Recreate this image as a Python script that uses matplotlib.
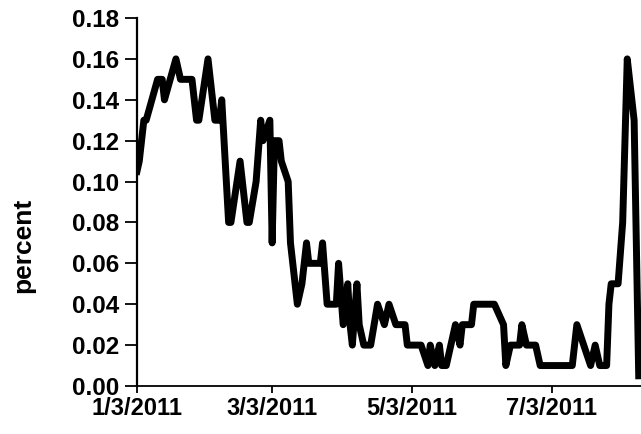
import pandas as pd
import matplotlib
matplotlib.use('Agg')
import matplotlib.pyplot as plt

# daily readings
dates = ['2011-01-03', '2011-01-04', '2011-01-06', '2011-01-07', '2011-01-12', '2011-01-14',
         '2011-01-15', '2011-01-20', '2011-01-22', '2011-01-27', '2011-01-29', '2011-01-30',
         '2011-02-03', '2011-02-06', '2011-02-08', '2011-02-09', '2011-02-12', '2011-02-13',
         '2011-02-17', '2011-02-20', '2011-02-21', '2011-02-24', '2011-02-26', '2011-02-27',
         '2011-03-02', '2011-03-03', '2011-03-04', '2011-03-06', '2011-03-07', '2011-03-10',
         '2011-03-11', '2011-03-14', '2011-03-16', '2011-03-18', '2011-03-19', '2011-03-24',
         '2011-03-25', '2011-03-27', '2011-03-31', '2011-04-01', '2011-04-03', '2011-04-05',
         '2011-04-06', '2011-04-07', '2011-04-09', '2011-04-10', '2011-04-12', '2011-04-15',
         '2011-04-18', '2011-04-21', '2011-04-23', '2011-04-26', '2011-04-30', '2011-05-01',
         '2011-05-07', '2011-05-10', '2011-05-11', '2011-05-13', '2011-05-15', '2011-05-16',
         '2011-05-18', '2011-05-22', '2011-05-24', '2011-05-25', '2011-05-29', '2011-05-30',
         '2011-06-08', '2011-06-12', '2011-06-13', '2011-06-15', '2011-06-19', '2011-06-20',
         '2011-06-22', '2011-06-26', '2011-06-28', '2011-07-12', '2011-07-14', '2011-07-17',
         '2011-07-20', '2011-07-22', '2011-07-24', '2011-07-27', '2011-07-28', '2011-07-29',
         '2011-08-01', '2011-08-03', '2011-08-05', '2011-08-07', '2011-08-08', '2011-08-10']
percent = [0.105, 0.11, 0.13, 0.13, 0.15, 0.15,
           0.14, 0.16, 0.15, 0.15, 0.13, 0.13,
           0.16, 0.13, 0.13, 0.14, 0.08, 0.08,
           0.11, 0.08, 0.08, 0.10, 0.13, 0.12,
           0.13, 0.07, 0.12, 0.12, 0.11, 0.10,
           0.07, 0.04, 0.05, 0.07, 0.06, 0.06,
           0.07, 0.04, 0.04, 0.06, 0.03, 0.05,
           0.03, 0.02, 0.05, 0.03, 0.02, 0.02,
           0.04, 0.03, 0.04, 0.03, 0.03, 0.02,
           0.02, 0.01, 0.02, 0.01, 0.02, 0.01,
           0.01, 0.03, 0.02, 0.03, 0.03, 0.04,
           0.04, 0.03, 0.01, 0.02, 0.02, 0.03,
           0.02, 0.02, 0.01, 0.01, 0.03, 0.02,
           0.01, 0.02, 0.01, 0.01, 0.04, 0.05,
           0.05, 0.08, 0.16, 0.14, 0.13, 0.005]
tick_dates = ['2011-01-03', '2011-03-03', '2011-05-03', '2011-07-03']
tick_labels = ['1/3/2011', '3/3/2011', '5/3/2011', '7/3/2011']

df = pd.DataFrame({'date': pd.to_datetime(dates), 'percent': percent})

plt.rcParams['font.family'] = ['Liberation Sans', 'DejaVu Sans']
plt.rcParams['font.weight'] = 'bold'

fig = plt.figure(figsize=(6.41, 4.34), dpi=100)
ax = fig.add_axes([0.2137, 0.1106, 0.7863, 0.8479])

ax.plot(df['date'], df['percent'], color='black', lw=5, solid_joinstyle='round')

ax.set_xlim(pd.Timestamp('2011-01-03'), pd.Timestamp('2011-08-11'))
ax.set_ylim(0, 0.18)
ax.set_yticks([i * 0.02 for i in range(10)])
ax.yaxis.set_major_formatter(plt.FuncFormatter(lambda v, p: '%.2f' % v))
ax.set_xticks(pd.to_datetime(tick_dates))
ax.set_xticklabels(tick_labels)

ax.set_ylabel('percent', fontsize=19, fontweight='bold')
ax.yaxis.set_label_coords(-0.202, 0.383)
ax.tick_params(axis='y', labelsize=17.5, length=9, pad=4, width=1.3)
ax.tick_params(axis='x', labelsize=17, length=5, pad=3, width=1.3)

for s in ['top', 'right']:
    ax.spines[s].set_visible(False)
ax.spines['left'].set_linewidth(1.6)
ax.spines['bottom'].set_linewidth(1.3)

fig.savefig('out.png', dpi=100)
